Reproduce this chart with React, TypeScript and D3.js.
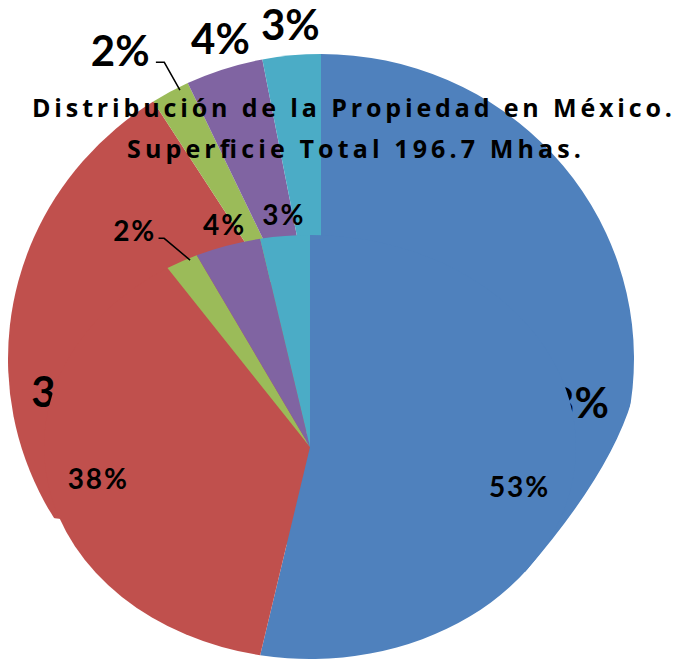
import React from 'react';
import * as d3 from 'd3';

// ---- data ----
const categories = ['Propiedad social', 'Propiedad privada', 'Colonias', 'Terrenos nacionales', 'Otros'];
const values = [53, 38, 2, 4, 3];
const colors = ['#4F81BD', '#C0504D', '#9BBB59', '#8064A2', '#4BACC6'];
const titleLines = ['Distribución de la Propiedad en México.', 'Superficie Total 196.7 Mhas.'];

// ---- layout ----
const W = 687;
const H = 660;

type PieCfg = {
  id: string;
  cx: number;
  cy: number;
  rx: number;
  ry: number;
  font: number;
  spacing: number;
  insideF: number;
  insideNudgeDeg: number[];
  clip?: string;
  shift: [number, number];
};

const backPie: PieCfg = {
  id: 'back', cx: 321, cy: 359, rx: 313, ry: 305, font: 42, spacing: 0,
  insideF: 0.8, insideNudgeDeg: [5, 3],
  clip: `M0,0 L${W},0 L${W},400 L632,400 Q610,474 525,572 L0,512 Z`,
  shift: [-44, -12],
};
const frontPie: PieCfg = {
  id: 'front', cx: 310, cy: 447, rx: 266, ry: 212, font: 28, spacing: 2,
  insideF: 0.81, insideNudgeDeg: [8, 0],
  shift: [-42, -11],
};

const pieGen = d3.pie<number>().sort(null).value((d) => d);
const arcs = pieGen(values);
const arcGen = d3.arc<any>();

function pt(cfg: PieCfg, a: number, f: number): [number, number] {
  return [cfg.cx + cfg.rx * f * Math.sin(a), cfg.cy - cfg.ry * f * Math.cos(a)];
}

function Pie({ cfg }: { cfg: PieCfg }) {
  const clipId = `clip-${cfg.id}`;
  const labelFont = "Lato, 'Open Sans', sans-serif";
  const smallIdx = arcs.map((a, i) => i).filter((i) => values[i] < 10);
  const firstSmall = smallIdx[0];
  let insideCount = 0;
  return (
    <g clipPath={cfg.clip ? `url(#${clipId})` : undefined}>
      {cfg.clip ? (
        <defs>
          <clipPath id={clipId}>
            <path d={cfg.clip} />
          </clipPath>
        </defs>
      ) : null}
      <g transform={`translate(${cfg.cx},${cfg.cy}) scale(${cfg.rx / cfg.ry},1)`}>
        {arcs.map((a, i) => (
          <path
            key={categories[i]}
            d={arcGen({ innerRadius: 0, outerRadius: cfg.ry, startAngle: a.startAngle, endAngle: a.endAngle }) as string}
            fill={colors[i]}
          />
        ))}
      </g>
      {arcs.map((a, i) => {
        const mid = (a.startAngle + a.endAngle) / 2;
        const label = `${values[i]}%`;
        if (values[i] >= 10) {
          const nudge = ((cfg.insideNudgeDeg[insideCount++] || 0) * Math.PI) / 180;
          const [x, y] = pt(cfg, mid + nudge, cfg.insideF);
          return (
            <text
              key={'l' + i}
              x={x}
              y={y + cfg.font * 0.35}
              textAnchor="middle"
              fontFamily={labelFont}
              fontWeight={700}
              fontSize={cfg.font}
              letterSpacing={cfg.spacing}
              fill="#000"
            >
              {label}
            </text>
          );
        }
        const [ax, ay] = pt(cfg, mid, 1.04);
        let x = ax;
        let base = ay - cfg.font * 0.08;
        const moved = i === firstSmall;
        if (moved) {
          x += cfg.shift[0];
          base += cfg.shift[1];
        }
        const [ex, ey] = pt(cfg, mid + 0.03, 0.99);
        const lx0 = x + cfg.font * 0.85;
        const ly = base - cfg.font * 0.08;
        return (
          <g key={'l' + i}>
            <text
              x={x}
              y={base}
              textAnchor="middle"
              fontFamily={labelFont}
              fontWeight={700}
              fontSize={cfg.font}
              letterSpacing={cfg.spacing}
              fill="#000"
            >
              {label}
            </text>
            {moved ? (
              <polyline
                points={`${lx0},${ly} ${lx0 + cfg.font * 0.2},${ly} ${ex},${ey}`}
                fill="none"
                stroke="#000"
                strokeWidth={1.5}
              />
            ) : null}
          </g>
        );
      })}
    </g>
  );
}

export default function App() {
  const titleFont = "'Open Sans', Lato, sans-serif";
  return (
    <svg width={W} height={H} style={{ position: 'absolute', left: 0, top: 0, background: '#fff' }}>
      <rect x={0} y={0} width={W} height={H} fill="#fff" />
      <Pie cfg={backPie} />
      <text
        x={32}
        y={117}
        fontFamily={titleFont}
        fontWeight={700}
        fontSize={25}
        textLength={640}
        lengthAdjust="spacing"
        fill="#000"
      >
        {titleLines[0]}
      </text>
      <text
        x={127}
        y={158}
        fontFamily={titleFont}
        fontWeight={700}
        fontSize={25}
        textLength={454}
        lengthAdjust="spacing"
        fill="#000"
      >
        {titleLines[1]}
      </text>
      <Pie cfg={frontPie} />
    </svg>
  );
}
